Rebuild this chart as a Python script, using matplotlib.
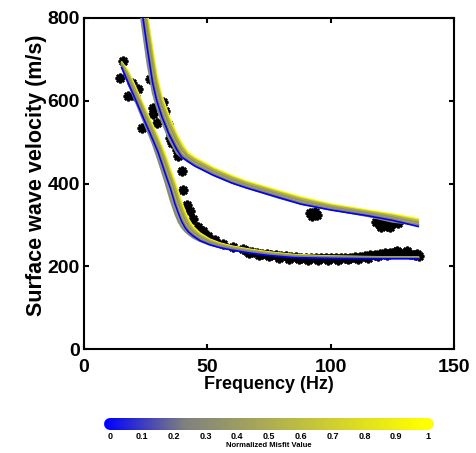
import numpy as np
import matplotlib
matplotlib.use("Agg")
import matplotlib.pyplot as plt
from matplotlib.colors import LinearSegmentedColormap
from matplotlib.collections import LineCollection

plt.rcParams['font.family'] = ['Liberation Sans', 'DejaVu Sans']
plt.rcParams['font.weight'] = 'bold'

# observed dispersion picks (Hz, m/s)
f_obs = [14.6, 15.9, 19.3, 22.0, 18.0, 20.7, 23.4,
         26.8, 28.1, 28.1, 29.5, 32.2, 32.8, 34.2, 34.9, 35.5, 36.2, 37.6, 38.2,
         39.6, 40.3, 41.6, 43.0, 44.3, 46.3, 48.4, 50.4, 53.1, 56.5, 60.5, 64.6,
         66, 68, 70, 72, 74, 76, 78, 80, 82, 84, 86, 88, 90, 92, 94, 96, 98, 100,
         102, 104, 106, 108, 110, 112, 114, 116, 118, 120, 122, 124, 126, 128,
         130, 132, 134, 136,
         67, 71, 75, 79, 83, 87, 91, 95, 99, 103, 107, 111, 115, 119, 123, 127,
         131, 135,
         91.5, 92.5, 93.5, 94.5, 93.0,
         118.5, 120, 121.5, 123, 124.5, 126, 127.5, 120.5, 124]
v_obs = [656, 696, 644, 628, 612, 612, 535,
         652, 583, 567, 547, 596, 575, 543, 511, 499, 503, 482, 466,
         430, 385, 349, 333, 313, 296, 284, 272, 264, 254, 246, 241,
         238, 235, 232, 230, 229, 227, 226, 225, 224, 223, 222, 221, 221, 220,
         220, 220, 219, 220, 220, 220, 221, 221, 222, 223, 224, 226, 228, 230,
         232, 233, 234, 233, 231, 229, 227, 225,
         232, 226, 224, 221, 218, 217, 216, 215, 216, 216, 217, 218, 220, 224,
         228, 238, 236, 229,
         328, 322, 330, 324, 326,
         306, 300, 304, 298, 302, 306, 304, 296, 294]

# best fitting model, fundamental and first higher mode
f_fund = [15.3, 18.0, 21.0, 24.0, 27.8, 30.0, 32.8, 35.0, 36.9, 38.3, 39.6,
          41.0, 42.5, 44.3, 47.0, 51.0, 55.0, 60.0, 67.3, 75.0, 85.0, 100.0,
          120.0, 135.5]
v_fund = [680, 642, 601, 559, 507, 476, 426, 388, 350, 327, 308,
          293, 282, 273, 262, 252, 245, 239, 232, 226, 221, 219,
          218, 218]
f_high = [22.5, 23.7, 25.7, 27.8, 29.5, 31.5, 34.5, 37.6, 39.6, 42.0, 45.0,
          52.4, 60.0, 66.0, 79.0, 88.0, 100.0, 115.0, 125.0, 135.5]
v_high = [870, 808, 725, 644, 600, 563, 518, 482, 464, 454, 442,
          420, 401, 389, 366, 350, 336, 322, 311, 296]

# other accepted models: misfit and their frequency / velocity deviation
misfit = [1.00, 0.92, 0.85, 0.75, 0.66, 0.58, 0.52, 0.46, 0.40, 0.35, 0.30,
          0.27, 0.00]
freq_fac = [1.07, 0.97, 1.06, 1.045, 1.02, 1.03, 1.05, 0.975, 0.965, 1.035,
            0.955, 1.01, 1.0]
vel_fac = [1.02, 1.018, 1.018, 1.014, 1.01, 1.012, 1.016, 1.012, 1.014,
           1.01, 1.015, 1.006, 1.0]

cb_ticks = [0, 0.1, 0.2, 0.3, 0.4, 0.5, 0.6, 0.7, 0.8, 0.9, 1]
cb_labels = ['0', '0.1', '0.2', '0.3', '0.4', '0.5', '0.6', '0.7', '0.8', '0.9', '1']

cmap = LinearSegmentedColormap.from_list(
    'misfit', [(0, '#0000ff'), (0.25, '#808080'), (1, '#ffff00')])

fig = plt.figure(figsize=(4.77, 4.53), dpi=100)
ax = fig.add_axes([84 / 477, 104 / 453, 370 / 477, 331 / 453])

ax.plot(f_obs, v_obs, linestyle='none', marker=(8, 2, 0), ms=7, mew=1.8,
        color='k', zorder=2)

for m, ff, vf in zip(misfit, freq_fac, vel_fac):
    c = cmap(m)
    for fs, vs in ((f_fund, v_fund), (f_high, v_high)):
        fs = np.array(fs)
        vm = np.interp(fs, fs * ff, np.array(vs) * vf)
        ax.plot(fs, vm, color=c, lw=1.2, solid_joinstyle='round', zorder=3)

ax.set_xlim(0, 150)
ax.set_ylim(0, 800)
ax.set_xticks([0, 50, 100, 150])
ax.set_yticks([0, 200, 400, 600, 800])
ax.tick_params(direction='in', length=3.6, width=1.5, top=True, right=True,
               labelsize=14)
ax.tick_params(axis='x', pad=7.5)
ax.tick_params(axis='y', pad=3)
for s in ax.spines.values():
    s.set_linewidth(1.5)
ax.set_xlabel('Frequency (Hz)', fontsize=13, fontweight='bold', labelpad=0)
ax.set_ylabel('Surface wave velocity (m/s)', fontsize=15.5, fontweight='bold')
ax.yaxis.set_label_coords(-0.1, 0.525)

# colour bar with rounded ends
cax = fig.add_axes([110 / 477, 23 / 453, 318 / 477, 12 / 453])
xs = np.linspace(0, 1, 201)
segs = [[(xs[i], 0.5), (xs[i + 1], 0.5)] for i in range(len(xs) - 1)]
lc = LineCollection(segs, colors=cmap((xs[:-1] + xs[1:]) / 2), linewidths=8.6,
                    capstyle='round', clip_on=False)
cax.add_collection(lc)
cax.set_xlim(0, 1)
cax.set_ylim(0, 1)
for s in cax.spines.values():
    s.set_visible(False)
cax.set_yticks([])
cax.set_xticks(cb_ticks)
cax.set_xticklabels(cb_labels, fontsize=6.5, fontweight='bold')
cax.tick_params(axis='x', length=0, pad=1.5)
cax.set_xlabel('Normalized Misfit Value', fontsize=5.5, fontweight='bold',
               labelpad=1)

fig.savefig('out.png', dpi=100)
